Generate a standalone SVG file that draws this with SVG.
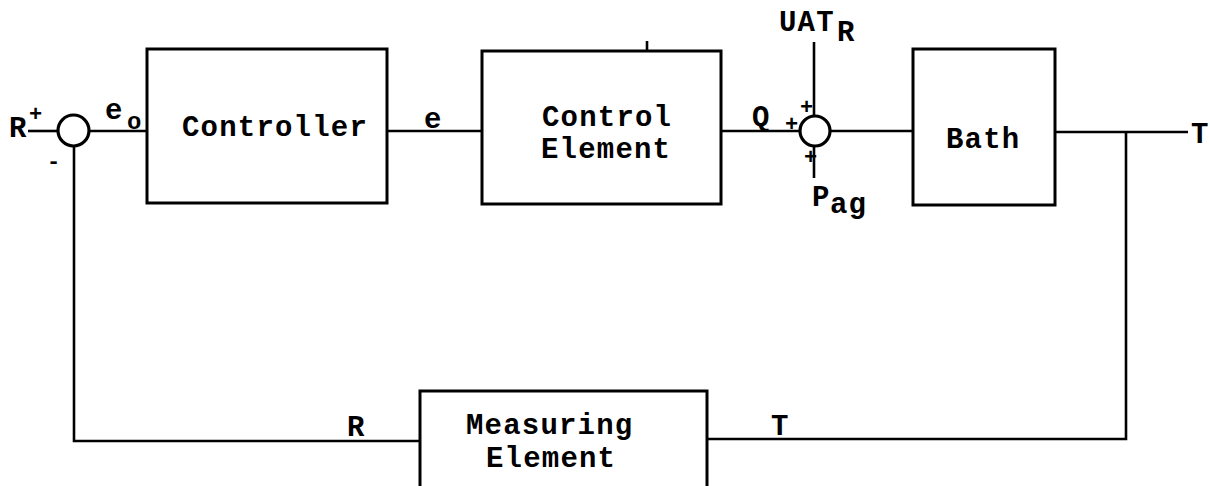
<svg xmlns="http://www.w3.org/2000/svg" width="1210" height="486" viewBox="0 0 1210 486">
<style>
.box{fill:#fff;stroke:#000;stroke-width:3}
.ln{fill:none;stroke:#000;stroke-width:2.6}
.sum{fill:#fff;stroke:#000;stroke-width:3.2}
text{font-family:"Liberation Mono","Courier New",monospace;font-weight:bold;fill:#000}
.t{font-size:29px;letter-spacing:1.2px}
.s{font-size:22px}
</style>
<rect width="1210" height="486" fill="#fff"/>
<g id="connectors">
<path class="ln" d="M28 131 H58"/>
<path class="ln" d="M89 131 H147"/>
<path class="ln" d="M387 131 H482"/>
<path class="ln" d="M721 131 H800"/>
<path class="ln" d="M830 131 H913"/>
<path class="ln" d="M1055 132 H1188"/>
<path class="ln" d="M1126 132 V439 H707"/>
<path class="ln" d="M420 441 H74 V146"/>
<path class="ln" d="M814 42 V116"/>
<path class="ln" d="M814 146 V178"/>
<path class="ln" d="M647 41 V50"/>
</g>
<g id="sum1">
<circle class="sum" cx="73.5" cy="130.5" r="15.5"/>
<text x="9" y="137" class="t">R</text>
<text x="29" y="121" class="s">+</text>
<text x="47" y="168" class="s">-</text>
</g>
<g id="controller">
<rect class="box" x="147" y="49" width="240" height="154"/>
<text x="182" y="136" class="t">Controller</text>
</g>
<g id="label-eo">
<text x="105" y="119" class="t">e</text>
<text x="127" y="129" class="t" style="font-size:24px">o</text>
</g>
<g id="label-e"><text x="424" y="128" class="t">e</text></g>
<g id="control-element">
<rect class="box" x="482" y="51" width="239" height="153"/>
<text x="542" y="126" class="t">Control</text>
<text x="541" y="158" class="t">Element</text>
</g>
<g id="label-Q"><text x="752" y="126" class="t">Q</text></g>
<g id="sum2">
<circle class="sum" cx="815" cy="131" r="15"/>
<text x="800" y="114" class="s">+</text>
<text x="785" y="131" class="s">+</text>
<text x="804" y="164" class="s">+</text>
</g>
<g id="label-UAT">
<text x="779" y="31" class="t">UAT</text>
<text x="837" y="41" class="t">R</text>
</g>
<g id="label-Pag">
<text x="812" y="206" class="t">P</text>
<text x="830" y="213" class="t">ag</text>
</g>
<g id="bath">
<rect class="box" x="913" y="49" width="142" height="156"/>
<text x="946" y="148" class="t">Bath</text>
</g>
<g id="label-T-out"><text x="1191" y="143" class="t">T</text></g>
<g id="measuring-element">
<rect class="box" x="420" y="391" width="287" height="110"/>
<text x="466" y="434" class="t">Measuring</text>
<text x="486" y="467" class="t">Element</text>
</g>
<g id="label-R"><text x="347" y="436" class="t">R</text></g>
<g id="label-T"><text x="771" y="435" class="t">T</text></g>
</svg>
